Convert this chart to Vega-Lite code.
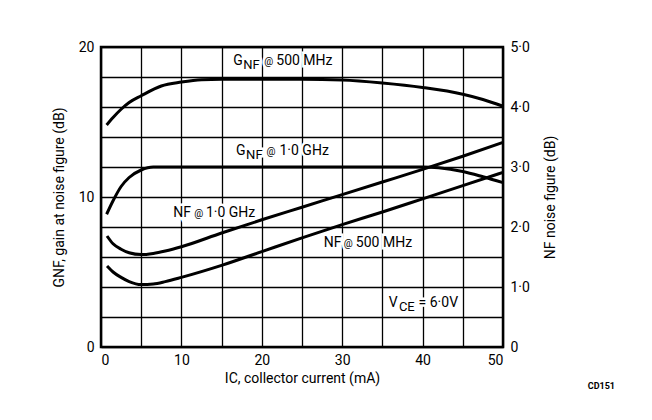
{
  "$schema": "https://vega.github.io/schema/vega-lite/v6.json",
  "width": 402,
  "height": 300,
  "autosize": {"type": "none"},
  "padding": {"left": 101, "top": 47, "right": 149, "bottom": 73},
  "background": "white",
  "config": {
    "font": "Roboto",
    "view": {"stroke": "black", "strokeWidth": 2.5},
    "axis": {"labelColor": "black", "titleColor": "black", "labelFontSize": 14, "titleFontSize": 14, "titleFontWeight": "normal", "ticks": false, "domain": false, "gridColor": "black", "gridOpacity": 1, "gridWidth": 1.3, "labelFont": "Roboto", "titleFont": "Roboto"}
  },
  "title": {"text": "CD151", "orient": "bottom", "anchor": "end", "frame": "group", "fontSize": 9, "fontWeight": "bold", "font": "Roboto", "color": "black", "dx": 112, "offset": -3},
  "datasets": {
    "gnf": [
      {"series": "GNF 500 MHz", "I": 0.7, "G": 14.8},
      {"series": "GNF 500 MHz", "I": 1.5, "G": 15.3},
      {"series": "GNF 500 MHz", "I": 2.5, "G": 15.85},
      {"series": "GNF 500 MHz", "I": 3.5, "G": 16.3},
      {"series": "GNF 500 MHz", "I": 5, "G": 16.75},
      {"series": "GNF 500 MHz", "I": 7.5, "G": 17.4},
      {"series": "GNF 500 MHz", "I": 10, "G": 17.66},
      {"series": "GNF 500 MHz", "I": 12.5, "G": 17.82},
      {"series": "GNF 500 MHz", "I": 15, "G": 17.85},
      {"series": "GNF 500 MHz", "I": 20, "G": 17.85},
      {"series": "GNF 500 MHz", "I": 25, "G": 17.85},
      {"series": "GNF 500 MHz", "I": 30, "G": 17.8},
      {"series": "GNF 500 MHz", "I": 35, "G": 17.6},
      {"series": "GNF 500 MHz", "I": 40, "G": 17.3},
      {"series": "GNF 500 MHz", "I": 45, "G": 16.85},
      {"series": "GNF 500 MHz", "I": 47.5, "G": 16.5},
      {"series": "GNF 500 MHz", "I": 50, "G": 16.05},
      {"series": "GNF 1.0 GHz", "I": 0.7, "G": 8.85},
      {"series": "GNF 1.0 GHz", "I": 1.5, "G": 9.75},
      {"series": "GNF 1.0 GHz", "I": 2.5, "G": 10.7},
      {"series": "GNF 1.0 GHz", "I": 3.5, "G": 11.3},
      {"series": "GNF 1.0 GHz", "I": 5, "G": 11.8},
      {"series": "GNF 1.0 GHz", "I": 6.5, "G": 12.0},
      {"series": "GNF 1.0 GHz", "I": 10, "G": 12.0},
      {"series": "GNF 1.0 GHz", "I": 20, "G": 12.0},
      {"series": "GNF 1.0 GHz", "I": 30, "G": 12.0},
      {"series": "GNF 1.0 GHz", "I": 40, "G": 12.0},
      {"series": "GNF 1.0 GHz", "I": 42, "G": 11.95},
      {"series": "GNF 1.0 GHz", "I": 45, "G": 11.7},
      {"series": "GNF 1.0 GHz", "I": 47.5, "G": 11.35},
      {"series": "GNF 1.0 GHz", "I": 50, "G": 10.96}
    ],
    "nf": [
      {"series": "NF 1.0 GHz", "I": 0.75, "NF": 1.85},
      {"series": "NF 1.0 GHz", "I": 1.5, "NF": 1.72},
      {"series": "NF 1.0 GHz", "I": 2.5, "NF": 1.63},
      {"series": "NF 1.0 GHz", "I": 3.5, "NF": 1.57},
      {"series": "NF 1.0 GHz", "I": 5, "NF": 1.54},
      {"series": "NF 1.0 GHz", "I": 6.5, "NF": 1.56},
      {"series": "NF 1.0 GHz", "I": 8, "NF": 1.6},
      {"series": "NF 1.0 GHz", "I": 10, "NF": 1.67},
      {"series": "NF 1.0 GHz", "I": 15, "NF": 1.9},
      {"series": "NF 1.0 GHz", "I": 20, "NF": 2.12},
      {"series": "NF 1.0 GHz", "I": 25, "NF": 2.33},
      {"series": "NF 1.0 GHz", "I": 30, "NF": 2.54},
      {"series": "NF 1.0 GHz", "I": 35, "NF": 2.75},
      {"series": "NF 1.0 GHz", "I": 40, "NF": 2.96},
      {"series": "NF 1.0 GHz", "I": 45, "NF": 3.18},
      {"series": "NF 1.0 GHz", "I": 50, "NF": 3.41},
      {"series": "NF 500 MHz", "I": 0.75, "NF": 1.35},
      {"series": "NF 500 MHz", "I": 1.5, "NF": 1.25},
      {"series": "NF 500 MHz", "I": 2.5, "NF": 1.16},
      {"series": "NF 500 MHz", "I": 3.5, "NF": 1.09},
      {"series": "NF 500 MHz", "I": 5, "NF": 1.04},
      {"series": "NF 500 MHz", "I": 6.5, "NF": 1.05},
      {"series": "NF 500 MHz", "I": 8, "NF": 1.09},
      {"series": "NF 500 MHz", "I": 10, "NF": 1.16},
      {"series": "NF 500 MHz", "I": 15, "NF": 1.36},
      {"series": "NF 500 MHz", "I": 20, "NF": 1.59},
      {"series": "NF 500 MHz", "I": 25, "NF": 1.82},
      {"series": "NF 500 MHz", "I": 30, "NF": 2.04},
      {"series": "NF 500 MHz", "I": 35, "NF": 2.25},
      {"series": "NF 500 MHz", "I": 40, "NF": 2.47},
      {"series": "NF 500 MHz", "I": 45, "NF": 2.69},
      {"series": "NF 500 MHz", "I": 50, "NF": 2.91}
    ],
    "labels": [
      {"label": 1, "part": "main", "I": 16.45, "G": 18.8, "t": "G"},
      {"label": 1, "part": "sub", "I": 17.7, "G": 18.8, "t": "NF"},
      {"label": 1, "part": "small", "I": 20.3, "G": 18.8, "t": "@"},
      {"label": 1, "part": "main", "I": 21.8, "G": 18.8, "t": "500 MHz"},
      {"label": 2, "part": "main", "I": 16.8, "G": 12.8, "t": "G"},
      {"label": 2, "part": "sub", "I": 18.05, "G": 12.8, "t": "NF"},
      {"label": 2, "part": "small", "I": 20.6, "G": 12.8, "t": "@"},
      {"label": 2, "part": "main", "I": 22.2, "G": 12.8, "t": "1·0 GHz"},
      {"label": 3, "part": "main", "I": 9.0, "G": 8.67, "t": "NF"},
      {"label": 3, "part": "small", "I": 11.6, "G": 8.67, "t": "@"},
      {"label": 3, "part": "main", "I": 13.05, "G": 8.67, "t": "1·0 GHz"},
      {"label": 4, "part": "main", "I": 27.7, "G": 6.67, "t": "NF"},
      {"label": 4, "part": "small", "I": 30.2, "G": 6.67, "t": "@"},
      {"label": 4, "part": "main", "I": 31.7, "G": 6.67, "t": "500 MHz"},
      {"label": 5, "part": "main", "I": 35.8, "G": 2.67, "t": "V"},
      {"label": 5, "part": "sub", "I": 37.05, "G": 2.67, "t": "CE"},
      {"label": 5, "part": "main", "I": 39.5, "G": 2.67, "t": "= 6·0V"}
    ]
  },
  "encoding": {
    "x": {"field": "I", "type": "quantitative", "scale": {"domain": [0, 50], "nice": false},
      "axis": {"values": [0,5,10,15,20,25,30,35,40,45,50], "labelExpr": "datum.value % 10 === 0 ? datum.label : ''", "grid": true, "labelPadding": 6, "title": "IC, collector current (mA)", "titlePadding": 4}}
  },
  "layer": [
    {
      "encoding": {
        "y": {"field": "G", "type": "quantitative", "scale": {"domain": [0, 20], "nice": false},
          "axis": {"values": [0,2,4,6,8,10,12,14,16,18,20], "labelExpr": "datum.value % 10 === 0 ? datum.label : ''", "grid": true, "labelPadding": 7, "title": "GNF, gain at noise figure (dB)", "titlePadding": 12}}
      },
      "layer": [
        {
          "data": {"name": "gnf"},
          "mark": {"type": "line", "color": "black", "strokeWidth": 3, "interpolate": "monotone"},
          "encoding": {"detail": {"field": "series", "type": "nominal"}}
        },
        {
          "data": {"name": "labels"},
          "transform": [{"filter": "datum.part === 'main'"}],
          "mark": {"type": "text", "align": "left", "baseline": "alphabetic", "fontSize": 14, "color": "white", "stroke": "white", "strokeWidth": 5},
          "encoding": {"text": {"field": "t"}}
        },
        {
          "data": {"name": "labels"},
          "transform": [{"filter": "datum.part === 'sub'"}],
          "mark": {"type": "text", "align": "left", "baseline": "alphabetic", "fontSize": 13, "dy": 4, "color": "white", "stroke": "white", "strokeWidth": 5},
          "encoding": {"text": {"field": "t"}}
        },
        {
          "data": {"name": "labels"},
          "transform": [{"filter": "datum.part === 'small'"}],
          "mark": {"type": "text", "align": "left", "baseline": "alphabetic", "fontSize": 10, "color": "white", "stroke": "white", "strokeWidth": 5},
          "encoding": {"text": {"field": "t"}}
        },
        {
          "data": {"name": "labels"},
          "transform": [{"filter": "datum.part === 'main'"}],
          "mark": {"type": "text", "align": "left", "baseline": "alphabetic", "fontSize": 14, "color": "black"},
          "encoding": {"text": {"field": "t"}}
        },
        {
          "data": {"name": "labels"},
          "transform": [{"filter": "datum.part === 'sub'"}],
          "mark": {"type": "text", "align": "left", "baseline": "alphabetic", "fontSize": 13, "dy": 4, "color": "black"},
          "encoding": {"text": {"field": "t"}}
        },
        {
          "data": {"name": "labels"},
          "transform": [{"filter": "datum.part === 'small'"}],
          "mark": {"type": "text", "align": "left", "baseline": "alphabetic", "fontSize": 10, "color": "black"},
          "encoding": {"text": {"field": "t"}}
        }
      ]
    },
    {
      "data": {"name": "nf"},
      "mark": {"type": "line", "color": "black", "strokeWidth": 3, "interpolate": "monotone"},
      "encoding": {
        "y": {"field": "NF", "type": "quantitative", "scale": {"domain": [0, 5], "nice": false},
          "axis": {"orient": "right", "values": [0,1,2,3,4,5], "labelExpr": "datum.value === 0 ? '0' : replace(format(datum.value, '.1f'), '.', '·')", "grid": false, "labelPadding": 7, "title": "NF noise figure (dB)", "titleAngle": 270, "titlePadding": 28}},
        "detail": {"field": "series", "type": "nominal"}
      }
    }
  ],
  "resolve": {"scale": {"y": "independent"}}
}
